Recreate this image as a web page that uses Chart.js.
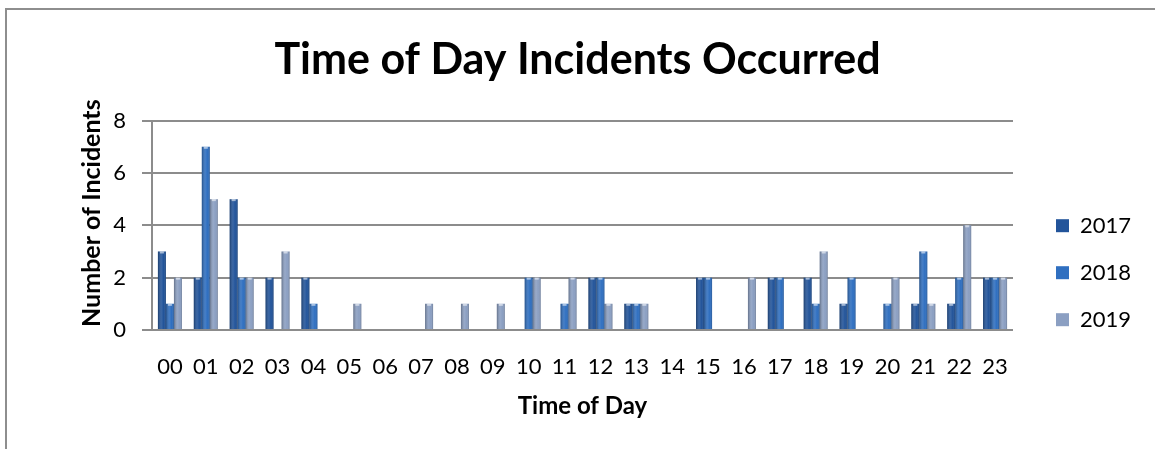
<!DOCTYPE html>
<html>
<head>
<meta charset="utf-8">
<script src="https://cdn.jsdelivr.net/npm/chart.js@4/dist/chart.umd.min.js"></script>
<style>
  html, body { margin: 0; padding: 0; background: #fff; }
  #frame { position: absolute; left: 5px; top: 8px; right: 0; bottom: 0;
           border-top: 2px solid #8e8e8e; border-left: 2px solid #8e8e8e; }
  #wrap { position: absolute; left: 0; top: 0; width: 1155px; height: 449px; }
</style>
</head>
<body>
<div id="frame"></div>
<div id="wrap"><canvas id="grafiek"></canvas></div>
<script>
const hours = ["00", "01", "02", "03", "04", "05", "06", "07", "08", "09", "10", "11",
               "12", "13", "14", "15", "16", "17", "18", "19", "20", "21", "22", "23"];
const incidents2017 = [3, 2, 5, 2, 2, 0, 0, 0, 0, 0, 0, 0, 2, 1, 0, 2, 0, 2, 2, 1, 0, 1, 1, 2];
const incidents2018 = [1, 7, 2, 0, 1, 0, 0, 0, 0, 0, 2, 1, 2, 1, 0, 2, 0, 2, 1, 2, 1, 3, 2, 2];
const incidents2019 = [2, 5, 2, 3, 0, 1, 0, 1, 1, 1, 2, 2, 1, 1, 0, 0, 2, 0, 3, 0, 2, 1, 4, 2];
const yTicks = [0, 2, 4, 6, 8];

const FONT = "Lato, 'Open Sans', sans-serif";

// shading over each bar, like the office 3d look
const barShade = {
    id: 'barShade',
    afterDatasetsDraw(chart) {
        const ctx = chart.ctx;
        chart.data.datasets.forEach((ds, di) => {
            const meta = chart.getDatasetMeta(di);
            meta.data.forEach((bar, i) => {
                if (!ds.data[i]) return;
                const left = bar.x - bar.width / 2;
                const top = bar.y;
                const h = bar.base - bar.y;
                const g = ctx.createLinearGradient(left, 0, left + bar.width, 0);
                g.addColorStop(0, 'rgba(0,0,0,0.30)');
                g.addColorStop(0.45, 'rgba(255,255,255,0.10)');
                g.addColorStop(0.7, 'rgba(255,255,255,0.0)');
                g.addColorStop(1, 'rgba(0,0,0,0.22)');
                ctx.save();
                ctx.fillStyle = g;
                ctx.fillRect(left, top, bar.width, h);
                ctx.fillStyle = 'rgba(255,255,255,0.55)';
                ctx.fillRect(left + 2, top, bar.width - 4, 2);
                ctx.restore();
            });
        });
    }
};

// legend gets a fixed width and sits a bit away from the plot
const legendSpot = {
    id: 'legendSpot',
    beforeUpdate(chart) {
        const lg = chart.legend;
        if (lg && !lg._vast) {
            const fit = lg.fit;
            lg.fit = function () { fit.call(this); this.width = 142; };
            lg._vast = true;
        }
    },
    afterLayout(chart) {
        if (chart.legend) { chart.legend.left += 18; }
    }
};

new Chart(document.getElementById('grafiek').getContext('2d'), {
    type: 'bar',
    data: {
        labels: hours,
        datasets: [
            { label: "2017", data: incidents2017, backgroundColor: "#22549a" },
            { label: "2018", data: incidents2018, backgroundColor: "#2f6fc0" },
            { label: "2019", data: incidents2019, backgroundColor: "#8b9fc2" }
        ]
    },
    options: {
        responsive: true,
        maintainAspectRatio: false,
        animation: false,
        categoryPercentage: 0.67,
        barPercentage: 1.0,
        layout: { padding: 0 },
        scales: {
            x: {
                grid: { display: false },
                border: { display: false },
                ticks: { color: "#000", padding: 16, font: { family: FONT, size: 22 }, maxRotation: 0, autoSkip: false },
                title: { display: true, text: "Time of Day", color: "#000",
                         font: { family: FONT, size: 24, weight: "bold" }, padding: { top: 0, bottom: 28 } },
                afterFit: (s) => { s.height = 119; }
            },
            y: {
                min: 0, max: 8,
                afterBuildTicks: (s) => { s.ticks = yTicks.map(v => ({ value: v })); },
                grid: { color: "#8c8c8c", lineWidth: 2, tickLength: 10 },
                border: { display: true, color: "#8c8c8c", width: 2 },
                ticks: { color: "#000", padding: 16, font: { family: FONT, size: 22 } },
                title: { display: true, text: "    Number of Incidents", color: "#000",
                         font: { family: FONT, size: 25, weight: "bold" }, padding: { top: 77, bottom: 0 } },
                afterFit: (s) => { s.width = 152; }
            }
        },
        plugins: {
            legend: {
                position: 'right',
                title: { display: true, text: ' ', font: { size: 12 }, padding: { top: 41, bottom: 41 } },
                labels: { color: "#000", boxWidth: 13, boxHeight: 13, padding: 25,
                          font: { family: FONT, size: 22 } }
            },
            title: {
                display: true,
                text: 'Time of Day Incidents Occurred',
                color: "#000",
                font: { family: FONT, size: 43, weight: "bold" },
                padding: { top: 34, bottom: 35 }
            },
            tooltip: { enabled: false }
        }
    },
    plugins: [barShade, legendSpot]
});
</script>
</body>
</html>
